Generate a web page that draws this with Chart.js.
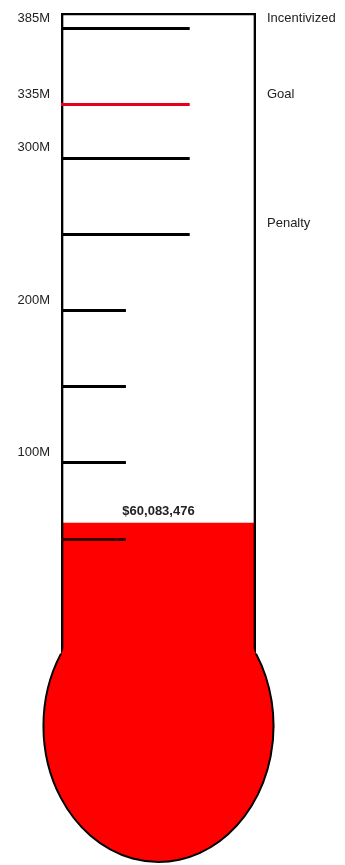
<!DOCTYPE html>
<html>
<head>
<meta charset="utf-8">
<title>Fundraising thermometer</title>
<script src="https://cdn.jsdelivr.net/npm/chart.js@4/dist/chart.umd.min.js"></script>
<style>
  html, body { margin: 0; padding: 0; background: #fff; }
  #wrap { width: 345px; height: 865px; }
</style>
</head>
<body>
<div id="wrap"><canvas id="thermo"></canvas></div>
<script>
// values in millions of dollars
const tickValues = [385, 335, 300, 250, 200, 150, 100, 50];
const axisLabelValues = [100, 200, 300, 335, 385];
const markerNames = ['Penalty', 'Goal', 'Incentivized'];
const markerValues = [250, 335, 385];
const raisedTotal = [60083476];

const M = 1e6;
const Y_MAX = 395 * M;
const Y_MIN = -163 * M;

// bulb geometry, in axis units / tube widths
const BULB_CENTER = -73 * M;
const BULB_RY = 90 * M;
const BULB_WIDTH = 1.18;

const FONT = "'Liberation Sans', Arial, sans-serif";

const thermoPlugin = {
  id: 'thermo',
  afterDatasetsDraw(chart) {
    const { ctx, chartArea, scales } = chart;
    const y = scales.y;
    const left = chartArea.left, right = chartArea.right;
    const w = right - left;
    const cx = (left + right) / 2;

    // bulb
    const cy = y.getPixelForValue(BULB_CENTER);
    const ry = y.getPixelForValue(BULB_CENTER - BULB_RY) - cy;
    const rx = w * BULB_WIDTH / 2;
    const c = (w / 2) / rx;
    const t = Math.atan2(-Math.sqrt(1 - c * c), c);
    ctx.save();
    ctx.beginPath();
    ctx.ellipse(cx, cy, rx, ry - 1, 0, 0, Math.PI * 2);
    ctx.fillStyle = '#ff0000';
    ctx.fill();
    ctx.beginPath();
    ctx.ellipse(cx, cy, rx, ry - 1, 0, t, Math.PI - t);
    ctx.lineWidth = 2;
    ctx.strokeStyle = '#000';
    ctx.stroke();

    // scale marks inside the tube
    tickValues.forEach(v => {
      const py = Math.round(y.getPixelForValue(v * M)) + 0.5;
      const long = v >= 250;
      const isGoal = markerNames[markerValues.indexOf(v)] === 'Goal';
      ctx.beginPath();
      ctx.moveTo(left, py);
      ctx.lineTo(left + w * (long ? 0.66 : 0.333), py);
      ctx.lineWidth = 3;
      ctx.strokeStyle = isGoal ? '#e8001a' : (v * M < raisedTotal[0] ? '#3a0000' : '#000');
      ctx.stroke();
    });

    // amount raised above the fill
    const top = y.getPixelForValue(raisedTotal[0]);
    ctx.font = 'bold 13px ' + FONT;
    ctx.fillStyle = '#222';
    ctx.textAlign = 'center';
    ctx.textBaseline = 'middle';
    ctx.fillText('$' + raisedTotal[0].toLocaleString('en-US'), cx, top - 12);
    ctx.restore();
  }
};

// fixed axis widths, and no extra room for the end labels
function fitAxis(width) {
  return s => {
    s.width = width;
    s.paddingTop = 0;
    s.paddingBottom = 0;
  };
}

new Chart(document.getElementById('thermo'), {
  type: 'bar',
  data: {
    labels: ['Raised'],
    datasets: [
      {
        // tube outline
        data: [[BULB_CENTER, Y_MAX]],
        backgroundColor: 'rgba(0,0,0,0)',
        borderColor: '#000',
        borderWidth: 2,
        borderSkipped: 'bottom',
        barPercentage: 1,
        categoryPercentage: 1,
        grouped: false
      },
      {
        // fill level
        data: raisedTotal.map(v => [BULB_CENTER, v]),
        backgroundColor: '#ff0000',
        borderWidth: 0,
        barPercentage: 1,
        categoryPercentage: 1,
        grouped: false
      }
    ]
  },
  options: {
    responsive: true,
    maintainAspectRatio: false,
    animation: false,
    layout: { padding: { top: 13, bottom: 2 } },
    plugins: { legend: { display: false }, tooltip: { enabled: false } },
    scales: {
      x: { display: false },
      y: {
        position: 'left',
        min: Y_MIN,
        max: Y_MAX,
        afterBuildTicks: s => { s.ticks = axisLabelValues.map(v => ({ value: v * M })); },
        afterFit: fitAxis(61),
        grid: { display: false, drawTicks: false },
        border: { display: false },
        ticks: {
          padding: 11,
          labelOffset: -10,
          color: '#222',
          font: { family: FONT, size: 13 },
          callback: v => Math.round(v / M) + 'M'
        }
      },
      y2: {
        position: 'right',
        min: Y_MIN,
        max: Y_MAX,
        afterBuildTicks: s => { s.ticks = markerValues.map(v => ({ value: v * M })); },
        afterFit: fitAxis(89),
        grid: { display: false, drawTicks: false },
        border: { display: false },
        ticks: {
          padding: 11,
          labelOffset: -10,
          color: '#222',
          font: { family: FONT, size: 13 },
          callback: v => markerNames[markerValues.indexOf(Math.round(v / M))]
        }
      }
    }
  },
  plugins: [thermoPlugin]
});
</script>
</body>
</html>
